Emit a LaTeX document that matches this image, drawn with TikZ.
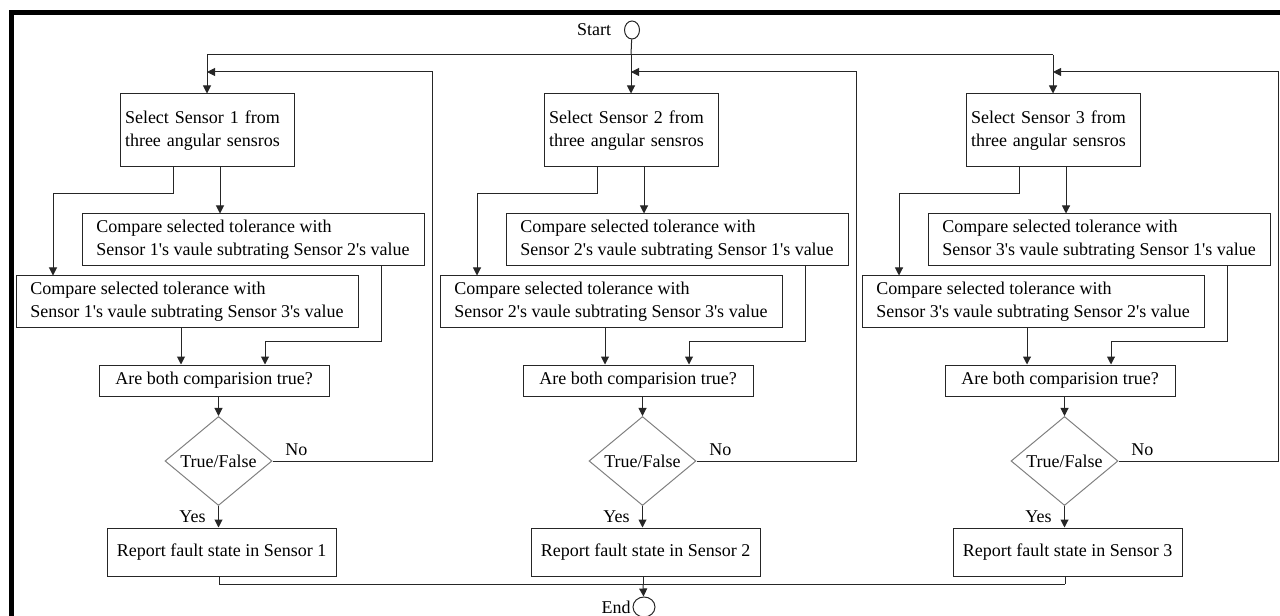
\documentclass[tikz,border=0pt]{standalone}
\usepackage{fontspec}
\setmainfont{Liberation Serif}[Ligatures=TeXOff]
\usetikzlibrary{shapes.geometric,arrows.meta}

\begin{document}
\begin{tikzpicture}[x=0.75pt,y=-0.75pt,line width=0.75pt,draw=black!85,>={Triangle[length=6pt,width=6pt]},font=\fontsize{13.5}{17}\selectfont]
		\tikzstyle{process}=[draw,rectangle,align=left,inner ysep=0pt]
		\tikzstyle{decision}=[draw=gray,diamond,inner sep=0pt,minimum width=80.25pt,minimum height=63pt]
		\tikzstyle{terminal}=[draw,ellipse,inner sep=0pt]
		\tikzstyle{flow}=[->]
		
		\useasboundingbox (0,0) rectangle (1280,616);
		
		% Frame
		\draw[line width=3.75pt,black] (11,616) -- (11,13) -- (1280,13);
		
		% Start and end
		\node[terminal,minimum width=11.25pt,minimum height=13.5pt,label={[label distance=6pt]left:Start}] (start) at (632,30) {};
		\node[terminal,minimum width=16.5pt,minimum height=15pt,label={[label distance=0pt,inner sep=1pt]left:End}] (end) at (644,607) {};
		
		% One column for each sensor
		\foreach \i/\dx/\a/\b in {1/0/2/3,2/424/1/3,3/846/1/2}{
		\begin{scope}[shift={(\dx,0)}]
			\coordinate (top-\i) at (207,55);
			\coordinate (join-\i) at (207,72);
			\coordinate (back-\i) at (432,72);
			\coordinate (bendB-\i) at (53,194);
			\coordinate (bendA-\i) at (265,341);
			\coordinate (bot-\i) at (219,584);
			
			\node[process,text width=123pt,inner xsep=3.75pt,minimum height=54.75pt] (sel-\i) at (207,130.5) {Select Sensor \i{} from\\three angular sensros};
			\node[process,inner xsep=8.25pt,minimum width=256.5pt,minimum height=39pt] (cmpA-\i) at (253,240) {Compare selected tolerance with\\Sensor \i's vaule subtrating Sensor \a's value};
			\node[process,inner xsep=8.25pt,minimum width=256.5pt,minimum height=38.25pt] (cmpB-\i) at (187,301.5) {Compare selected tolerance with\\Sensor \i's vaule subtrating Sensor \b's value};
			\node[process,minimum width=172.5pt,minimum height=23.25pt] (ask-\i) at (214,380.5) {Are both comparision true?};
			\node[decision] (tf-\i) at (218.5,461) {True/False};
			\node[process,minimum width=171.75pt,minimum height=36pt] (rep-\i) at (221.5,552) {Report fault state in Sensor \i};
		\end{scope}
		
		\draw[flow] (top-\i) -- (sel-\i);
		\draw[flow] ([xshift=9.75pt]sel-\i.south) -- ([xshift=9.75pt]sel-\i.south |- cmpA-\i.north);
		\draw[flow] ([xshift=-25.5pt]sel-\i.south) |- (bendB-\i) -- (bendB-\i |- cmpB-\i.north);
		\draw[flow] ([xshift=96pt]cmpA-\i.south) |- (bendA-\i) -- (bendA-\i |- ask-\i.north);
		\draw[flow] ([xshift=-4.5pt]cmpB-\i.south) -- ([xshift=-4.5pt]cmpB-\i.south |- ask-\i.north);
		\draw[flow] (ask-\i.south -| tf-\i.north) -- (tf-\i.north);
		\draw[flow] (tf-\i.south) -- node[left=6pt]{Yes} (tf-\i.south |- rep-\i.north);
		\draw[flow] (tf-\i.east) node[above right,xshift=6pt]{No} -| (back-\i) -- (join-\i);
		\draw (rep-\i.south -| bot-\i) -- (bot-\i);
		}
		
		% Join the columns
		\draw (top-1) -- (top-3);
		\draw (start) -- (top-2);
		\draw (bot-1) -- (bot-3);
		\draw[flow] (bot-2) -- (end);
	\end{tikzpicture}
\end{document}
